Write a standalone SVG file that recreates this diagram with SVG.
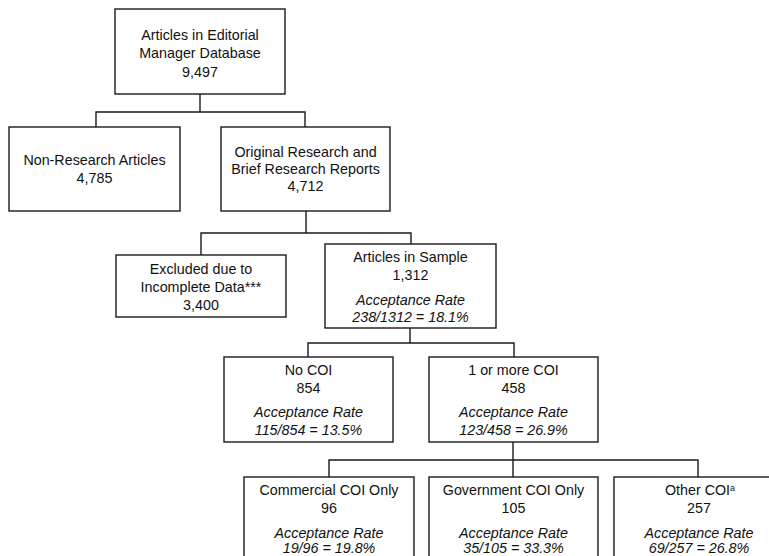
<svg xmlns="http://www.w3.org/2000/svg" width="769" height="556" viewBox="0 0 769 556">
<style>
.box{fill:#fff;stroke:#1a1a1a;stroke-width:1.4}
.ln{fill:none;stroke:#1a1a1a;stroke-width:1.4}
text{font-family:"Liberation Sans",Arial,sans-serif;font-size:14.3px;fill:#111;text-anchor:middle}
.it{font-style:italic}
.sup{font-size:9px}
</style>
<rect width="769" height="556" fill="#fff"/>
<g id="connectors">
<path class="ln" d="M200,94V112M96,127V112H305V127"/>
<path class="ln" d="M306,211V233M201,255V233H411V244"/>
<path class="ln" d="M410,328V343M308,357V343H514V357"/>
<path class="ln" d="M513,442V477M329,477V460H698V477"/>
</g>
<g id="n-database">
<rect class="box" x="115" y="9" width="170" height="85"/>
<text x="200" y="39.5">Articles in Editorial</text>
<text x="200" y="58">Manager Database</text>
<text x="200" y="76.5">9,497</text>
</g>
<g id="n-nonresearch">
<rect class="box" x="9" y="127" width="171" height="84"/>
<text x="94.5" y="165">Non-Research Articles</text>
<text x="94.5" y="182.5">4,785</text>
</g>
<g id="n-original">
<rect class="box" x="221" y="127" width="169" height="84"/>
<text x="305.5" y="157">Original Research and</text>
<text x="305.5" y="174">Brief Research Reports</text>
<text x="305.5" y="191">4,712</text>
</g>
<g id="n-excluded">
<rect class="box" x="116" y="255" width="170" height="62"/>
<text x="201" y="274">Excluded due to</text>
<text x="201" y="292">Incomplete Data***</text>
<text x="201" y="309.5">3,400</text>
</g>
<g id="n-sample">
<rect class="box" x="325" y="244" width="171" height="84"/>
<text x="410.5" y="262">Articles in Sample</text>
<text x="410.5" y="279.5">1,312</text>
<text class="it" x="410.5" y="304.5">Acceptance Rate</text>
<text class="it" x="410.5" y="322">238/1312 = 18.1%</text>
</g>
<g id="n-nocoi">
<rect class="box" x="224" y="357" width="169" height="85"/>
<text x="308.5" y="375">No COI</text>
<text x="308.5" y="393">854</text>
<text class="it" x="308.5" y="417">Acceptance Rate</text>
<text class="it" x="308.5" y="434.5">115/854 = 13.5%</text>
</g>
<g id="n-morecoi">
<rect class="box" x="429" y="357" width="169" height="85"/>
<text x="513.5" y="375">1 or more COI</text>
<text x="513.5" y="393">458</text>
<text class="it" x="513.5" y="417">Acceptance Rate</text>
<text class="it" x="513.5" y="434.5">123/458 = 26.9%</text>
</g>
<g id="n-commercial">
<rect class="box" x="244" y="477" width="170" height="90"/>
<text x="329" y="495">Commercial COI Only</text>
<text x="329" y="512.5">96</text>
<text class="it" x="329" y="537.5">Acceptance Rate</text>
<text class="it" x="329" y="553">19/96 = 19.8%</text>
</g>
<g id="n-government">
<rect class="box" x="429" y="477" width="169" height="90"/>
<text x="513.5" y="495">Government COI Only</text>
<text x="513.5" y="512.5">105</text>
<text class="it" x="513.5" y="537.5">Acceptance Rate</text>
<text class="it" x="513.5" y="553">35/105 = 33.3%</text>
</g>
<g id="n-other">
<rect class="box" x="614" y="477" width="170" height="90"/>
<text x="700" y="495">Other COI<tspan class="sup" dy="-4">a</tspan></text>
<text x="699" y="512.5">257</text>
<text class="it" x="699" y="537.5">Acceptance Rate</text>
<text class="it" x="699" y="553">69/257 = 26.8%</text>
</g>
</svg>
